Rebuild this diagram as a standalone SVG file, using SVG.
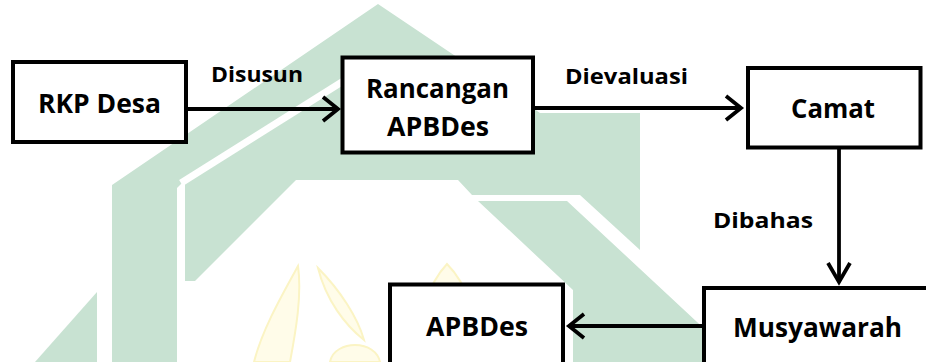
<svg xmlns="http://www.w3.org/2000/svg" width="926" height="362" viewBox="0 0 926 362">
  <style>
    .wm-green { fill: #c8e2d2; }
    .wm-yellow { fill: #fffce9; stroke: #fbf4c4; stroke-width: 2; }
    .box { fill: #ffffff; stroke: #000000; stroke-width: 4; }
    .node-text { font-family: "Open Sans", "Liberation Sans", sans-serif; font-weight: 700; font-size: 26px; fill: #000000; text-anchor: middle; }
    .edge-label { font-family: "Open Sans", "Liberation Sans", sans-serif; font-weight: 700; font-size: 22px; fill: #000000; text-anchor: middle; }
    .conn { fill: none; stroke: #000000; stroke-width: 3.8; }
    .head { fill: none; stroke: #000000; stroke-width: 3.8; stroke-linejoin: miter; }
  </style>
  <defs>
    <marker id="chev" viewBox="0 0 24 28" markerWidth="24" markerHeight="28" refX="17" refY="14" orient="auto" markerUnits="userSpaceOnUse">
      <path class="head" d="M2,2 L17,14 L2,26"/>
    </marker>
    <marker id="chevLong" viewBox="0 0 28 26" markerWidth="28" markerHeight="26" refX="21" refY="13" orient="auto" markerUnits="userSpaceOnUse">
      <path class="head" d="M2,2 L21,13 L2,24"/>
    </marker>
  </defs>

  <rect width="926" height="362" fill="#ffffff"/>

  <!-- background emblem -->
  <g id="emblem">
    <polygon class="wm-green" points="378,4 540,113 640,113 640,250 580,195 472,195 458,180 296,180 195,281 185,281 185,180 177,188 177,362 112,362 112,185"/>
    <line x1="181" y1="183" x2="345" y2="80" stroke="#ffffff" stroke-width="7"/>
    <polygon class="wm-green" points="478,201 567,201 740,362 573,362 573,290"/>
    <polygon class="wm-green" points="35,362 97,292 97,362"/>
    <path class="wm-yellow" d="M298,266 C282,295 262,330 254,362 L290,362 C296,330 302,295 298,266 Z"/>
    <path class="wm-yellow" d="M318,268 C326,300 345,325 364,340 C358,318 340,290 318,268 Z"/>
    <path class="wm-yellow" d="M330,362 C332,350 345,345 355,345 C368,345 378,352 380,362 Z"/>
    <path class="wm-yellow" d="M447,264 C430,282 418,312 415,362 L480,362 C478,312 465,282 447,264 Z"/>
  </g>

  <!-- connectors -->
  <g id="connectors">
    <line class="conn" x1="186" y1="109" x2="338" y2="109" marker-end="url(#chev)"/>
    <line class="conn" x1="533" y1="108" x2="741" y2="108" marker-end="url(#chev)"/>
    <line class="conn" x1="839" y1="149" x2="839" y2="282" marker-end="url(#chevLong)"/>
    <line class="conn" x1="704" y1="326" x2="569" y2="326" marker-end="url(#chev)"/>
    <text class="edge-label" x="257" y="82" textLength="92" lengthAdjust="spacingAndGlyphs">Disusun</text>
    <text class="edge-label" x="626.5" y="84" textLength="123" lengthAdjust="spacingAndGlyphs">Dievaluasi</text>
    <text class="edge-label" x="763" y="228" textLength="100" lengthAdjust="spacingAndGlyphs">Dibahas</text>
  </g>

  <g id="rkp-desa">
    <rect class="box" x="13" y="62" width="173" height="80"/>
    <text class="node-text" x="99.5" y="113" textLength="123" lengthAdjust="spacingAndGlyphs">RKP Desa</text>
  </g>

  <g id="rancangan-apbdes">
    <rect class="box" x="342.5" y="57.5" width="190.5" height="95"/>
    <text class="node-text" x="437.5" y="98" textLength="143" lengthAdjust="spacingAndGlyphs">Rancangan</text>
    <text class="node-text" x="438" y="136" textLength="102" lengthAdjust="spacingAndGlyphs">APBDes</text>
  </g>

  <g id="camat">
    <rect class="box" x="748" y="68" width="172.5" height="79.5"/>
    <text class="node-text" x="833" y="118" textLength="84" lengthAdjust="spacingAndGlyphs">Camat</text>
  </g>

  <g id="musyawarah">
    <rect class="box" x="704" y="288" width="260" height="100"/>
    <text class="node-text" x="817.5" y="337" textLength="169" lengthAdjust="spacingAndGlyphs">Musyawarah</text>
  </g>

  <g id="apbdes">
    <rect class="box" x="390" y="284.5" width="173" height="100"/>
    <text class="node-text" x="477" y="336" textLength="102" lengthAdjust="spacingAndGlyphs">APBDes</text>
  </g>
</svg>
